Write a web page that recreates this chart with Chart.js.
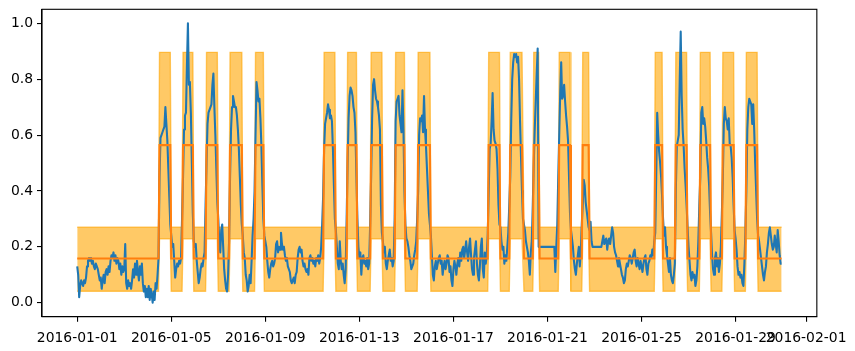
<!DOCTYPE html>
<html>
<head>
<meta charset="utf-8">
<script src="https://cdn.jsdelivr.net/npm/chart.js@4.4.1/dist/chart.umd.min.js"></script>
<style>
  html, body { margin: 0; padding: 0; background: #fff; }
  #wrap { width: 855px; height: 351px; }
</style>
</head>
<body>
<div id="wrap"><canvas id="chart"></canvas></div>
<script>
// hourly values, one row per day, starting 2016-01-01 00:00
const hourlyLoad = [
  0.13, 0.10, 0.02, 0.06, 0.08, 0.07, 0.06, 0.08, 0.07, 0.09, 0.13, 0.15, 0.16, 0.15, 0.16, 0.14, 0.15, 0.13, 0.12, 0.14, 0.13, 0.12, 0.10, 0.08,
  0.09, 0.05, 0.08, 0.10, 0.07, 0.11, 0.12, 0.10, 0.13, 0.11, 0.15, 0.17, 0.16, 0.18, 0.15, 0.17, 0.14, 0.16, 0.15, 0.12, 0.14, 0.10, 0.13, 0.11,
  0.12, 0.21, 0.07, 0.05, 0.08, 0.06, 0.07, 0.05, 0.08, 0.12, 0.09, 0.14, 0.10, 0.15, 0.11, 0.08, 0.13, 0.10, 0.14, 0.07, 0.04, 0.06, 0.02, 0.05,
  0.02, 0.06, 0.01, 0.05, 0.03, 0.00, 0.04, 0.01, 0.07, 0.05, 0.10, 0.16, 0.45, 0.59, 0.60, 0.61, 0.62, 0.63, 0.70, 0.64, 0.58, 0.48, 0.38, 0.28,
  0.24, 0.20, 0.21, 0.15, 0.09, 0.12, 0.14, 0.13, 0.15, 0.14, 0.16, 0.30, 0.45, 0.62, 0.67, 0.68, 0.85, 1.00, 0.78, 0.79, 0.68, 0.50, 0.32, 0.22,
  0.20, 0.21, 0.15, 0.11, 0.07, 0.09, 0.12, 0.14, 0.13, 0.16, 0.18, 0.35, 0.50, 0.64, 0.68, 0.69, 0.70, 0.71, 0.78, 0.82, 0.70, 0.60, 0.48, 0.36,
  0.30, 0.22, 0.18, 0.26, 0.28, 0.20, 0.12, 0.08, 0.05, 0.04, 0.10, 0.22, 0.45, 0.62, 0.70, 0.74, 0.72, 0.70, 0.70, 0.67, 0.62, 0.55, 0.45, 0.35,
  0.28, 0.24, 0.18, 0.16, 0.10, 0.08, 0.04, 0.06, 0.10, 0.07, 0.15, 0.24, 0.30, 0.40, 0.60, 0.79, 0.76, 0.72, 0.73, 0.66, 0.56, 0.42, 0.30, 0.24,
  0.22, 0.20, 0.15, 0.11, 0.09, 0.12, 0.14, 0.15, 0.13, 0.14, 0.16, 0.21, 0.22, 0.18, 0.20, 0.19, 0.25, 0.21, 0.19, 0.20, 0.17, 0.15, 0.16, 0.13,
  0.12, 0.11, 0.08, 0.07, 0.08, 0.09, 0.07, 0.10, 0.11, 0.16, 0.19, 0.20, 0.18, 0.19, 0.15, 0.13, 0.14, 0.12, 0.11, 0.12, 0.10, 0.16, 0.17, 0.15,
  0.16, 0.14, 0.15, 0.13, 0.16, 0.15, 0.17, 0.14, 0.16, 0.20, 0.28, 0.38, 0.55, 0.64, 0.66, 0.68, 0.71, 0.69, 0.66, 0.67, 0.65, 0.55, 0.42, 0.30,
  0.26, 0.20, 0.14, 0.12, 0.22, 0.15, 0.12, 0.14, 0.10, 0.07, 0.12, 0.30, 0.50, 0.66, 0.74, 0.77, 0.76, 0.74, 0.70, 0.68, 0.61, 0.45, 0.30, 0.20,
  0.16, 0.18, 0.10, 0.16, 0.17, 0.14, 0.15, 0.13, 0.16, 0.12, 0.14, 0.28, 0.45, 0.66, 0.78, 0.80, 0.76, 0.73, 0.72, 0.70, 0.67, 0.62, 0.35, 0.25,
  0.22, 0.18, 0.20, 0.14, 0.12, 0.15, 0.17, 0.19, 0.15, 0.16, 0.13, 0.15, 0.30, 0.65, 0.72, 0.73, 0.74, 0.67, 0.64, 0.61, 0.76, 0.62, 0.40, 0.28,
  0.23, 0.22, 0.20, 0.17, 0.15, 0.12, 0.13, 0.14, 0.17, 0.19, 0.22, 0.30, 0.40, 0.60, 0.66, 0.65, 0.67, 0.61, 0.74, 0.62, 0.56, 0.48, 0.40, 0.32,
  0.28, 0.24, 0.17, 0.10, 0.08, 0.13, 0.15, 0.12, 0.14, 0.16, 0.17, 0.14, 0.15, 0.10, 0.13, 0.15, 0.12, 0.14, 0.17, 0.16, 0.11, 0.13, 0.08, 0.06,
  0.12, 0.15, 0.13, 0.10, 0.14, 0.16, 0.13, 0.18, 0.15, 0.19, 0.20, 0.16, 0.19, 0.22, 0.18, 0.15, 0.20, 0.23, 0.17, 0.12, 0.10, 0.16, 0.19, 0.22,
  0.14, 0.10, 0.08, 0.13, 0.20, 0.23, 0.12, 0.09, 0.18, 0.14, 0.17, 0.24, 0.40, 0.55, 0.57, 0.65, 0.75, 0.62, 0.58, 0.57, 0.55, 0.48, 0.35, 0.28,
  0.27, 0.22, 0.19, 0.20, 0.14, 0.17, 0.15, 0.20, 0.25, 0.35, 0.45, 0.65, 0.80, 0.86, 0.89, 0.88, 0.89, 0.86, 0.88, 0.80, 0.65, 0.52, 0.40, 0.30,
  0.28, 0.26, 0.22, 0.20, 0.18, 0.15, 0.10, 0.18, 0.22, 0.35, 0.50, 0.62, 0.72, 0.82, 0.91, 0.20, 0.20, 0.20, 0.20, 0.20, 0.20, 0.20, 0.20, 0.20,
  0.20, 0.20, 0.20, 0.20, 0.20, 0.20, 0.20, 0.20, 0.11, 0.20, 0.28, 0.45, 0.60, 0.75, 0.86, 0.73, 0.74, 0.78, 0.72, 0.67, 0.63, 0.58, 0.45, 0.32,
  0.26, 0.23, 0.20, 0.15, 0.12, 0.10, 0.14, 0.17, 0.20, 0.13, 0.18, 0.28, 0.35, 0.44, 0.42, 0.36, 0.33, 0.30, 0.27, 0.26, 0.29, 0.22, 0.20, 0.20,
  0.20, 0.20, 0.20, 0.20, 0.20, 0.20, 0.20, 0.20, 0.22, 0.24, 0.21, 0.22, 0.23, 0.19, 0.22, 0.23, 0.21, 0.24, 0.27, 0.25, 0.20, 0.18, 0.17, 0.15,
  0.13, 0.16, 0.14, 0.12, 0.10, 0.09, 0.07, 0.08, 0.12, 0.14, 0.13, 0.15, 0.17, 0.16, 0.14, 0.16, 0.18, 0.19, 0.15, 0.13, 0.16, 0.14, 0.12, 0.15,
  0.13, 0.11, 0.14, 0.16, 0.17, 0.12, 0.10, 0.14, 0.15, 0.17, 0.16, 0.19, 0.17, 0.22, 0.25, 0.45, 0.68, 0.60, 0.54, 0.50, 0.45, 0.38, 0.30, 0.24,
  0.27, 0.20, 0.17, 0.14, 0.11, 0.16, 0.10, 0.08, 0.07, 0.10, 0.14, 0.40, 0.56, 0.58, 0.60, 0.80, 0.97, 0.74, 0.62, 0.56, 0.48, 0.42, 0.35, 0.27,
  0.20, 0.15, 0.10, 0.08, 0.11, 0.09, 0.10, 0.06, 0.08, 0.13, 0.22, 0.35, 0.45, 0.68, 0.70, 0.64, 0.66, 0.63, 0.58, 0.52, 0.48, 0.42, 0.32, 0.25,
  0.17, 0.12, 0.10, 0.16, 0.18, 0.13, 0.16, 0.11, 0.14, 0.20, 0.32, 0.45, 0.64, 0.70, 0.66, 0.65, 0.62, 0.66, 0.57, 0.56, 0.52, 0.45, 0.35, 0.26,
  0.23, 0.19, 0.13, 0.10, 0.11, 0.09, 0.10, 0.07, 0.06, 0.14, 0.25, 0.40, 0.62, 0.70, 0.73, 0.72, 0.71, 0.64, 0.71, 0.62, 0.50, 0.40, 0.30, 0.24,
  0.22, 0.19, 0.16, 0.13, 0.10, 0.08, 0.11, 0.13, 0.18, 0.21, 0.25, 0.27, 0.24, 0.21, 0.19, 0.20, 0.24, 0.21, 0.18, 0.26, 0.22, 0.17, 0.14, 0.14,
];

// hours in the high state: [first hour, first hour after]
const highStates = [
  [84, 96], [108, 119], [132, 144], [156, 169], [182, 191],
  [252, 264], [276, 286], [300, 312], [325, 335], [348, 361],
  [420, 432], [442, 456], [466, 472], [492, 504], [516, 523],
  [590, 598], [611, 623], [636, 647], [659, 671], [683, 695],
];

// index 0 = low state, 1 = high state
const stateMean = [0.158, 0.564];
const stateLower = [0.041, 0.229];
const stateUpper = [0.27, 0.896];

const xTickHours = [0, 96, 192, 288, 384, 480, 576, 672, 744];
const xTickLabels = ["2016-01-01", "2016-01-05", "2016-01-09", "2016-01-13", "2016-01-17",
  "2016-01-21", "2016-01-25", "2016-01-29", "2016-02-01"];
const yTicks = [0, 0.2, 0.4, 0.6, 0.8, 1.0];

function main() {
  const state = hourlyLoad.map(() => 0);
  highStates.forEach(([a, b]) => {
    for (let h = a; h < b; h++) state[h] = 1;
  });

  const load = hourlyLoad.map((v, h) => ({ x: h, y: v }));
  const mean = state.map((s, h) => ({ x: h, y: stateMean[s] }));
  const upper = state.map((s, h) => ({ x: h, y: stateUpper[s] }));
  const lower = state.map((s, h) => ({ x: h, y: stateLower[s] }));

  const font = { family: "DejaVu Sans", size: 13.9 };

  // top and right spines
  const frame = {
    id: "frame",
    afterDraw(chart) {
      const { ctx, chartArea: a } = chart;
      ctx.save();
      ctx.strokeStyle = "#000";
      ctx.lineWidth = 1.1;
      ctx.strokeRect(a.left, a.top, a.right - a.left, a.bottom - a.top);
      ctx.restore();
    },
  };

  new Chart(document.querySelector("#chart"), {
    type: "line",
    data: {
      datasets: [
        {
          data: mean,
          borderColor: "#ff7f0e",
          borderWidth: 2.08,
          pointRadius: 0,
          fill: false,
          order: 0,
        },
        {
          data: load,
          borderColor: "#1f77b4",
          borderWidth: 2.08,
          borderJoinStyle: "round",
          pointRadius: 0,
          fill: false,
          order: 1,
        },
        {
          data: upper,
          borderColor: "rgba(255, 165, 0, 0.6)",
          backgroundColor: "rgba(255, 165, 0, 0.6)",
          borderWidth: 1.39,
          pointRadius: 0,
          fill: "+1",
          order: 2,
        },
        {
          data: lower,
          borderColor: "rgba(255, 165, 0, 0.6)",
          borderWidth: 1.39,
          pointRadius: 0,
          fill: false,
          order: 3,
        },
      ],
    },
    options: {
      responsive: true,
      maintainAspectRatio: false,
      animation: false,
      devicePixelRatio: 1,
      layout: { padding: { top: 9.3, right: 38, left: 0, bottom: 0 } },
      plugins: { legend: { display: false }, tooltip: { enabled: false } },
      elements: { line: { tension: 0 } },
      scales: {
        x: {
          type: "linear",
          min: -35.95,
          max: 754.95,
          afterBuildTicks: (s) => { s.ticks = xTickHours.map((v) => ({ value: v })); },
          afterFit: (s) => { s.height = 34.3; },
          ticks: {
            autoSkip: false,
            maxRotation: 0,
            minRotation: 0,
            padding: 8,
            color: "#000",
            font,
            callback: (v, i) => xTickLabels[i],
          },
          grid: { drawOnChartArea: false, drawTicks: true, tickLength: 5, color: "#000", lineWidth: 1.1 },
          border: { display: true, color: "#000", width: 1.1 },
        },
        y: {
          min: -0.05,
          max: 1.05,
          afterBuildTicks: (s) => { s.ticks = yTicks.map((v) => ({ value: v })); },
          afterFit: (s) => {
            s.width = 42;
            s.paddingTop = 0;
            s.paddingBottom = 0;
          },
          ticks: {
            padding: 4,
            color: "#000",
            font,
            callback: (v) => v.toFixed(1),
          },
          grid: { drawOnChartArea: false, drawTicks: true, tickLength: 5, color: "#000", lineWidth: 1.1 },
          border: { display: true, color: "#000", width: 1.1 },
        },
      },
    },
    plugins: [frame],
  });
}

main();
</script>
</body>
</html>
